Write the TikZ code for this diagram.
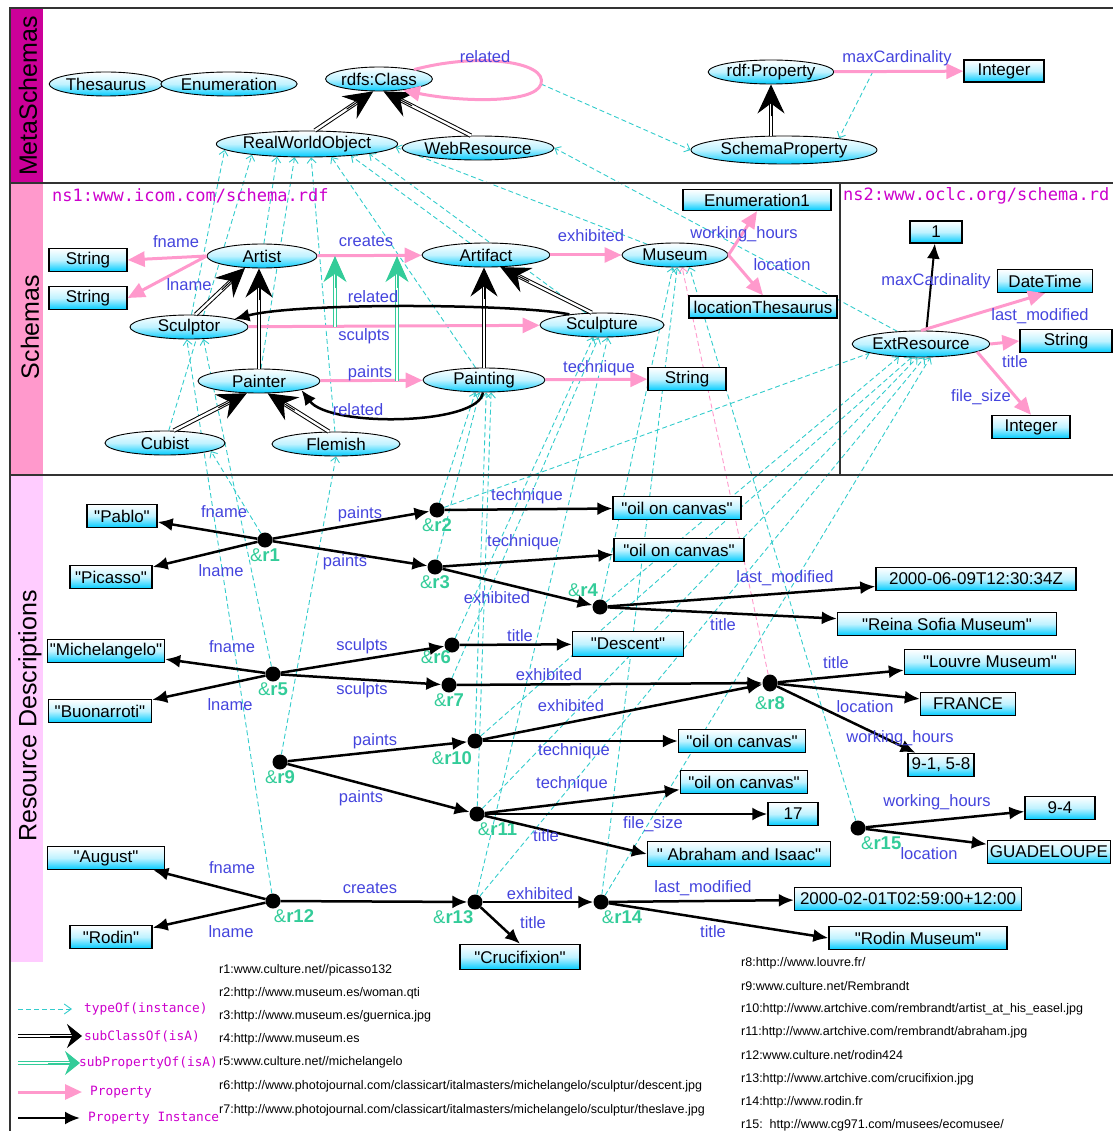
\documentclass[tikz,border=0pt]{standalone}
\usepackage{fontspec}
\setmainfont{Liberation Sans}[Ligatures=TeXOff]
\newfontfamily\monofont{DejaVu Sans Mono}
\usetikzlibrary{arrows.meta,shapes.geometric,calc}
\pgfdeclarelayer{background}
\pgfsetlayers{background,main}

\definecolor{bandMeta}{RGB}{204,0,153}
\definecolor{bandSchema}{RGB}{255,153,204}
\definecolor{bandRes}{RGB}{255,204,255}
\definecolor{propPink}{RGB}{255,153,204}
\definecolor{labBlue}{RGB}{68,68,221}
\definecolor{subGreen}{RGB}{51,204,153}
\definecolor{typeCyan}{RGB}{51,204,204}
\definecolor{nodeCyan}{RGB}{0,204,255}
\definecolor{nsMagenta}{RGB}{204,0,204}

\newcommand{\ndfont}{\fontsize{17}{18}\selectfont}
\newcommand{\lbfont}{\fontsize{16.5}{18}\selectfont}
\newcommand{\rsfont}{\fontsize{18.5}{19}\selectfont}
\newcommand{\bandfont}{\fontsize{25}{26}\selectfont}
\newcommand{\nsfont}{\monofont\fontsize{17}{18}\selectfont}
\newcommand{\keyfont}{\monofont\fontsize{12.8}{14}\selectfont}
\newcommand{\urlfont}{\fontsize{12.5}{14}\selectfont}
\newcommand{\qt}{\symbol{34}}

% a double-lined link: #1 line style, #2 tip style, #3 start, #4 end, #5 line back-off
\newcommand{\dbllink}[5]{%
  \draw[#1] (#3) -- ($(#4)!#5!(#3)$);
  \draw[#2] ($(#4)!32pt!(#3)$) -- (#4);}

\begin{document}
\begin{tikzpicture}[x=1pt,y=-1pt,
  cls/.style={ellipse, draw=black, line width=0.9pt, top color=white, bottom color=nodeCyan,
    middle color=nodeCyan!25, minimum height=24pt, inner sep=0pt, font=\ndfont},
  lit/.style={rectangle, draw=black, line width=1.4pt, top color=white, bottom color=nodeCyan,
    middle color=nodeCyan!25, minimum height=23pt, inner sep=0pt, font=\ndfont},
  res/.style={circle, fill=black, minimum size=15pt, inner sep=0pt},
  rl/.style={text=subGreen, font=\rsfont, inner sep=0pt},
  lab/.style={text=labBlue, font=\lbfont, inner sep=0pt},
  band/.style={rotate=90, font=\bandfont, inner sep=0pt},
  prop/.style={draw=propPink, line width=3pt, -{Triangle[length=17pt,width=15pt]}},
  pinst/.style={draw=black, line width=2.5pt, -{Latex[length=15pt,width=13pt]}},
  isaline/.style={draw=black, double=white, line width=1pt, double distance=2.4pt},
  isatip/.style={draw=black, line width=1pt, -{Stealth[length=29pt,width=27pt,inset=10pt]}},
  subline/.style={draw=subGreen, double=white, line width=1.2pt, double distance=2.4pt},
  subtip/.style={draw=subGreen, line width=1pt, -{Stealth[length=26pt,width=23pt,inset=8pt]}},
  isakey/.style={draw=black, line width=1pt, -{Stealth[length=15pt,width=24pt,inset=5pt]}},
  subkey/.style={draw=subGreen, line width=1pt, -{Stealth[length=15pt,width=24pt,inset=5pt]}},
  typeof/.style={draw=typeCyan, line width=0.9pt, dash pattern=on 5pt off 3pt,
    -{Straight Barb[length=5pt,width=9pt]}},
  url/.style={anchor=west, font=\urlfont, inner sep=0pt},
  key/.style={anchor=west, font=\keyfont, text=nsMagenta, inner sep=0pt},
  every label/.style={rl},
  label distance=1pt]

\useasboundingbox (0,0) rectangle (1113,1131);

% ---------- frame and bands ----------
\fill[bandMeta] (11,9) rectangle (43,183);
\fill[bandSchema] (11,184) rectangle (43,475);
\fill[bandRes] (11,476) rectangle (43,962);
\draw[line width=1.5pt, black!80] (10,1131) -- (10,8) -- (1113,8);
\draw[line width=1.5pt, black!80] (10,183) -- (1113,183);
\draw[line width=1.5pt, black!80] (10,475) -- (1113,475);
\draw[line width=1.5pt, black!80] (840,183) -- (840,475);
\node[band] (bMeta) at (28,96) {MetaSchemas};
\node[band] (bSchema) at (30,327) {Schemas};
\node[band] (bRes) at (30,716) {Resource Descriptions};

% ---------- meta schemas ----------
\node[cls, minimum width=106pt] (thes) at (106,84) {Thesaurus};
\node[cls, minimum width=106pt] (enum) at (229,84) {Enumeration};
\node[cls, minimum width=106pt] (rdfs) at (379,79) {rdfs:Class};
\node[cls, minimum width=152pt, minimum height=26pt] (rwo) at (307,144) {RealWorldObject};
\node[cls, minimum width=138pt] (webr) at (478,148) {WebResource};
\node[cls, minimum width=124pt] (rdfp) at (771,72) {rdf:Property};
\node[lit, minimum width=80pt, minimum height=22pt] (intm) at (1004,71) {Integer};
\node[cls, minimum width=186pt, minimum height=28pt] (sprop) at (784,150) {SchemaProperty};
\coordinate (spTop) at (rdfp.south |- sprop.north);

\dbllink{isaline}{isatip}{rwo.60}{rdfs.-115}{16pt}
\dbllink{isaline}{isatip}{webr.120}{rdfs.-70}{16pt}
\dbllink{isaline}{isatip}{spTop}{rdfp.south}{16pt}
\draw[prop] (rdfs.15) .. controls (480,52) and (548,62) .. (541,84) coordinate (relx)
  .. controls (535,104) and (460,102) .. (rdfs.-25);
\draw[prop] (rdfp) -- coordinate[pos=0.3] (mcx) (intm);
\node[lab] (tRel0) at (485,57) {related};
\node[lab] (tMax0) at (897,58) {maxCardinality};

% ---------- schema ns1 ----------
\node[anchor=west, font=\nsfont, text=nsMagenta, inner sep=0pt] (ns1) at (52,196) {ns1:www.icom.com/schema.rdf};
\node[lit, minimum width=78pt] (strA) at (88,260) {String};
\node[lit, minimum width=78pt] (strB) at (88,298) {String};
\node[cls, minimum width=110pt] (artist) at (262,256) {Artist};
\node[cls, minimum width=128pt] (artifact) at (486,255) {Artifact};
\node[cls, minimum width=106pt] (museum) at (675,255) {Museum};
\node[lit, minimum width=148pt, minimum height=21pt] (enum1) at (757,200) {Enumeration1};
\node[lit, minimum width=148pt, minimum height=22pt] (locth) at (763,307) {locationThesaurus};
\node[cls, minimum width=118pt] (sculptor) at (189,327) {Sculptor};
\node[cls, minimum width=124pt] (sculpture) at (602,325) {Sculpture};
\node[cls, minimum width=122pt] (painter) at (259,381) {Painter};
\node[cls, minimum width=122pt] (painting) at (484,380) {Painting};
\node[lit, minimum width=78pt] (strT) at (687,379) {String};
\node[cls, minimum width=120pt] (cubist) at (165,443) {Cubist};
\node[cls, minimum width=128pt] (flemish) at (336,444) {Flemish};
\coordinate (paTop) at (painter.north |- artist.south);
\coordinate (pgTop) at (painting.north |- artifact.south);
\coordinate (gA0) at (335,0 |- sculptor.center);
\coordinate (gA1) at (335,0 |- artist.center);
\coordinate (gB0) at (397,0 |- painter.center);
\coordinate (gB1) at (397,0 |- artist.center);

\draw[prop] (artist.west) -- (strA.east);
\draw[prop] (artist.west) -- (strB.east);
\draw[prop] (artist) -- (artifact);
\draw[prop] (artifact) -- (museum);
\draw[prop] (museum.east) -- (enum1.south);
\draw[prop] (museum.east) -- (locth.north);
\draw[prop] (sculptor) -- (sculpture);
\draw[prop] (painter) -- (painting);
\draw[prop] (painting) -- (strT);
\dbllink{subline}{subtip}{gA0}{gA1}{15pt}
\dbllink{subline}{subtip}{gB0}{gB1}{15pt}
\dbllink{isaline}{isatip}{sculptor.62}{artist.-145}{16pt}
\dbllink{isaline}{isatip}{painter.north}{paTop}{16pt}
\dbllink{isaline}{isatip}{painting.north}{pgTop}{16pt}
\dbllink{isaline}{isatip}{sculpture.130}{artifact.-40}{16pt}
\dbllink{isaline}{isatip}{cubist.55}{painter.-135}{16pt}
\dbllink{isaline}{isatip}{flemish.120}{painter.-55}{16pt}
\draw[pinst] (sculpture.162) .. controls (520,304) and (300,302) .. (sculptor.10);
\draw[pinst] (painting.-95) .. controls (480,425) and (330,428) .. (painter.-12);

\node[lab] (tFn0) at (176,242) {fname};
\node[lab] (tLn0) at (189,285) {lname};
\node[lab] (tCr0) at (366,241) {creates};
\node[lab] (tEx0) at (591,236) {exhibited};
\node[lab] (tWh0) at (744,234) {working\_hours};
\node[lab] (tLo0) at (782,265) {location};
\node[lab] (tRel1) at (373,297) {related};
\node[lab] (tSc0) at (364,336) {sculpts};
\node[lab] (tPa0) at (370,373) {paints};
\node[lab] (tTe0) at (599,368) {technique};
\node[lab] (tRel2) at (358,410) {related};

% ---------- schema ns2 ----------
\node[anchor=west, font=\nsfont, text=nsMagenta, inner sep=0pt] (ns2) at (843,196) {ns2:www.oclc.org/schema.rd};
\node[lit, minimum width=52pt, minimum height=22pt] (one) at (936,232) {1};
\node[lit, minimum width=95pt] (dtime) at (1045,281) {DateTime};
\node[cls, minimum width=134pt, minimum height=26pt] (extres) at (921,344) {ExtResource};
\node[lit, minimum width=92pt] (strE) at (1066,341) {String};
\node[lit, minimum width=78pt] (intE) at (1031,427) {Integer};
\draw[pinst, line width=2pt] (extres.68) -- (one);
\draw[prop] (extres.north) -- (dtime.south);
\draw[prop] (extres.east) -- (strE.west);
\draw[prop] (extres.-8) -- (intE.north);
\node[lab] (tMax1) at (936,281) {maxCardinality};
\node[lab] (tLm0) at (1040,316) {last\_modified};
\node[lab] (tTi0) at (1015,362) {title};
\node[lab] (tFs0) at (981,397) {file\_size};

% ---------- resource descriptions ----------
\node[res, label={below:\&\textbf{r1}}] (r1) at (265,540) {};
\node[res, label={below:\&\textbf{r2}}] (r2) at (437,510) {};
\node[res, label={below:\&\textbf{r3}}] (r3) at (435,567) {};
\node[res, label={[label distance=3pt]100:\&\textbf{r4}}] (r4) at (600,607) {};
\node[res, label={below:\&\textbf{r5}}] (r5) at (273,674) {};
\node[res, label={[label distance=-2pt]-100:\&\textbf{r6}}] (r6) at (452,645) {};
\node[res, label={below:\&\textbf{r7}}] (r7) at (449,685) {};
\node[res, minimum width=15pt, minimum height=17pt, ellipse, label={[label distance=5pt]below:\&\textbf{r8}}] (r8) at (770,683) {};
\node[res, label={below:\&\textbf{r9}}] (r9) at (280,762) {};
\node[res, label={[label distance=3pt]-105:\&\textbf{r10}}] (r10) at (475,741) {};
\node[res, label={-85:\&\textbf{r11}}] (r11) at (477,814) {};
\node[res, label={-85:\&\textbf{r12}}] (r12) at (273,901) {};
\node[res, label={-100:\&\textbf{r13}}] (r13) at (475,902) {};
\node[res, label={-85:\&\textbf{r14}}] (r14) at (601,902) {};
\node[res, label={-70:\&\textbf{r15}}] (r15) at (858,828) {};

\node[lit, minimum width=70pt] (pablo) at (122,516) {\qt Pablo\qt};
\node[lit, minimum width=82pt] (picasso) at (111,577) {\qt Picasso\qt};
\node[lit, minimum width=117pt] (mich) at (106,651) {\qt Michelangelo\qt};
\node[lit, minimum width=103pt] (buon) at (100,711) {\qt Buonarroti\qt};
\node[lit, minimum width=117pt] (august) at (106,858) {\qt August\qt};
\node[lit, minimum width=82pt] (rodin) at (111,937) {\qt Rodin\qt};
\node[lit, minimum width=128pt] (oilA) at (677,508) {\qt oil on canvas\qt};
\node[lit, minimum width=130pt] (oilB) at (679,550) {\qt oil on canvas\qt};
\node[lit, minimum width=200pt] (dateA) at (976,579) {2000-06-09T12:30:34Z};
\node[lit, minimum width=219pt] (reina) at (947,624) {\qt Reina Sofia Museum\qt};
\node[lit, minimum width=111pt, minimum height=25pt] (descent) at (628,644) {\qt Descent\qt};
\node[lit, minimum width=171pt, minimum height=25pt] (louvre) at (990,662) {\qt Louvre Museum\qt};
\node[lit, minimum width=95pt] (france) at (968,704) {FRANCE};
\node[lit, minimum width=127pt] (oilC) at (742,741) {\qt oil on canvas\qt};
\node[lit, minimum width=66pt] (whA) at (941,765) {9-1, 5-8};
\node[lit, minimum width=127pt] (oilD) at (744,782) {\qt oil on canvas\qt};
\node[lit, minimum width=50pt] (n17) at (793,814) {17};
\node[lit, minimum width=70pt] (whB) at (1060,808) {9-4};
\node[lit, minimum width=183pt, minimum height=25pt] (abraham) at (739,854) {\qt\ Abraham and Isaac\qt};
\node[lit, minimum width=123pt] (guad) at (1049,852) {GUADELOUPE};
\node[lit, minimum width=227pt] (dateB) at (908,899) {2000-02-01T02:59:00+12:00};
\node[lit, minimum width=178pt] (rodinm) at (918,938) {\qt Rodin Museum\qt};
\node[lit, minimum width=120pt, minimum height=25pt] (cruc) at (520,957) {\qt Crucifixion\qt};

\draw[pinst] (r1) -- (pablo);
\draw[pinst] (r1) -- (picasso);
\draw[pinst] (r1) -- (r2);
\draw[pinst] (r1) -- (r3);
\draw[pinst] (r2) -- (oilA);
\draw[pinst] (r3) -- (oilB);
\draw[pinst] (r3) -- (r4);
\draw[pinst] (r4) -- (dateA);
\draw[pinst] (r4) -- (reina);
\draw[pinst] (r5) -- (mich);
\draw[pinst] (r5) -- (buon);
\draw[pinst] (r5) -- (r6);
\draw[pinst] (r5) -- (r7);
\draw[pinst] (r6) -- (descent);
\draw[pinst] (r7) -- (r8);
\draw[pinst] (r10) -- (r8);
\draw[pinst] (r8) -- (louvre);
\draw[pinst] (r8) -- (france);
\draw[pinst] (r8) -- (whA);
\draw[pinst] (r9) -- (r10);
\draw[pinst] (r9) -- (r11);
\draw[pinst] (r10) -- (oilC);
\draw[pinst] (r11) -- (oilD);
\draw[pinst] (r11) -- (n17);
\draw[pinst] (r11) -- (abraham.west);
\draw[pinst] (r15) -- (whB);
\draw[pinst] (r15) -- (guad);
\draw[pinst] (r12) -- (august);
\draw[pinst] (r12) -- (rodin);
\draw[pinst] (r12) -- (r13);
\draw[pinst] (r13) -- (r14);
\draw[pinst] (r13) -- (cruc.north);
\draw[pinst] (r14) -- (dateB);
\draw[pinst] (r14) -- (rodinm.west);

\node[lab] (tFn1) at (224,512) {fname};
\node[lab] (tLn1) at (221,571) {lname};
\node[lab] (tPa1) at (360,514) {paints};
\node[lab] (tPa2) at (345,562) {paints};
\node[lab] (tTe1) at (527,496) {technique};
\node[lab] (tTe2) at (523,542) {technique};
\node[lab] (tEx1) at (497,598) {exhibited};
\node[lab] (tLm1) at (785,578) {last\_modified};
\node[lab] (tTi1) at (723,625) {title};
\node[lab] (tFn2) at (232,647) {fname};
\node[lab] (tLn2) at (230,705) {lname};
\node[lab] (tSc1) at (362,646) {sculpts};
\node[lab] (tSc2) at (362,690) {sculpts};
\node[lab] (tTi2) at (520,636) {title};
\node[lab] (tEx2) at (549,675) {exhibited};
\node[lab] (tEx3) at (571,706) {exhibited};
\node[lab] (tTi3) at (836,663) {title};
\node[lab] (tLo1) at (865,707) {location};
\node[lab] (tWh1) at (900,738) {working\_hours};
\node[lab] (tPa3) at (375,741) {paints};
\node[lab] (tPa4) at (361,798) {paints};
\node[lab] (tTe3) at (574,751) {technique};
\node[lab] (tTe4) at (572,784) {technique};
\node[lab] (tFs1) at (653,824) {file\_size};
\node[lab] (tTi4) at (546,836) {title};
\node[lab] (tWh2) at (937,802) {working\_hours};
\node[lab] (tLo2) at (929,854) {location};
\node[lab] (tFn3) at (232,868) {fname};
\node[lab] (tLn3) at (231,932) {lname};
\node[lab] (tCr1) at (370,888) {creates};
\node[lab] (tEx4) at (540,894) {exhibited};
\node[lab] (tTi5) at (533,923) {title};
\node[lab] (tLm2) at (703,888) {last\_modified};
\node[lab] (tTi6) at (713,932) {title};

% ---------- key ----------
\coordinate (kA0) at (18,1009); \coordinate (kA1) at (72,1009);
\coordinate (kB0) at (18,1036); \coordinate (kB1) at (82,1036);
\coordinate (kC0) at (18,1063); \coordinate (kC1) at (80,1063);
\coordinate (kD0) at (18,1092); \coordinate (kD1) at (82,1092);
\coordinate (kE0) at (18,1118); \coordinate (kE1) at (80,1118);
\draw[typeof, -{Straight Barb[length=7pt,width=10pt]}] (kA0) -- (kA1);
\dbllink{isaline}{isakey}{kB0}{kB1}{10pt}
\dbllink{subline}{subkey}{kC0}{kC1}{10pt}
\draw[prop] (kD0) -- (kD1);
\draw[pinst] (kE0) -- (kE1);
\node[key] (kAt) at (84,1009) {typeOf(instance)};
\node[key] (kBt) at (84,1036) {subClassOf(isA)};
\node[key] (kCt) at (79,1063) {subPropertyOf(isA)};
\node[key] (kDt) at (90,1092) {Property};
\node[key] (kEt) at (88,1118) {Property Instance};

% ---------- resource addresses ----------
\node[url] (u1) at (219,970) {r1:www.culture.net//picasso132};
\node[url] (u2) at (219,993) {r2:http://www.museum.es/woman.qti};
\node[url] (u3) at (219,1016) {r3:http://www.museum.es/guernica.jpg};
\node[url] (u4) at (219,1039) {r4:http://www.museum.es};
\node[url] (u5) at (219,1062) {r5:www.culture.net//michelangelo};
\node[url] (u6) at (219,1086) {r6:http://www.photojournal.com/classicart/italmasters/michelangelo/sculptur/descent.jpg};
\node[url] (u7) at (219,1110) {r7:http://www.photojournal.com/classicart/italmasters/michelangelo/sculptur/theslave.jpg};
\node[url] (u8) at (741,963) {r8:http://www.louvre.fr/};
\node[url] (u9) at (741,986) {r9:www.culture.net/Rembrandt};
\node[url] (u10) at (741,1009) {r10:http://www.artchive.com/rembrandt/artist\_at\_his\_easel.jpg};
\node[url] (u11) at (741,1032) {r11:http://www.artchive.com/rembrandt/abraham.jpg};
\node[url] (u12) at (741,1055) {r12:www.culture.net/rodin424};
\node[url] (u13) at (741,1079) {r13:http://www.artchive.com/crucifixion.jpg};
\node[url] (u14) at (741,1102) {r14:http://www.rodin.fr};
\node[url] (u15) at (741,1125) {r15:\ \ http://www.cg971.com/musees/ecomusee/};

% ---------- typeOf links, kept behind the nodes ----------
\begin{pgfonlayer}{background}
\draw[typeof] (relx) -- (sprop.west);
\draw[typeof] (mcx) -- (sprop.12);
\draw[typeof] (extres) -- (webr.east);
\draw[typeof] (sculptor) -- (rwo.-176);
\draw[typeof] (cubist) -- (rwo.-169);
\draw[typeof] (artist) -- (rwo.-157);
\draw[typeof] (painter) -- (rwo.-133);
\draw[typeof] (flemish) -- (rwo.-73);
\draw[typeof] (painting) -- (rwo.-28);
\draw[typeof] (artifact) -- (rwo.-15);
\draw[typeof] (sculpture) -- (rwo.-9);
\draw[typeof] (museum) -- (rwo.-2);
\draw[typeof] (r1) -- (cubist.-10);
\draw[typeof] (r5) -- (sculptor.-40);
\draw[typeof] (r12) -- (sculptor.-100);
\draw[typeof] (r9) -- (flemish.-90);
\draw[typeof] (r2) -- (painting.-125);
\draw[typeof] (r3) -- (painting.-110);
\draw[typeof] (r10) -- (painting.-80);
\draw[typeof] (r11) -- (painting.-60);
\draw[typeof] (r6) -- (sculpture.-125);
\draw[typeof] (r7) -- (sculpture.-105);
\draw[typeof] (r13) -- (sculpture.-65);
\draw[typeof] (r4) -- (museum.-100);
\draw[typeof] (r14) -- (museum.-80);
\draw[typeof] (r15) -- (museum.-40);
\draw[typeof, draw=propPink] (r8) -- (museum.-60);
\draw[typeof] (r2) -- (extres.-170);
\draw[typeof] (r4) -- (extres.-150);
\draw[typeof] (r10) -- (extres.-125);
\draw[typeof] (r11) -- (extres.-105);
\draw[typeof] (r13) -- (extres.-75);
\draw[typeof] (r14) -- (extres.-55);
\end{pgfonlayer}
\end{tikzpicture}
\end{document}
